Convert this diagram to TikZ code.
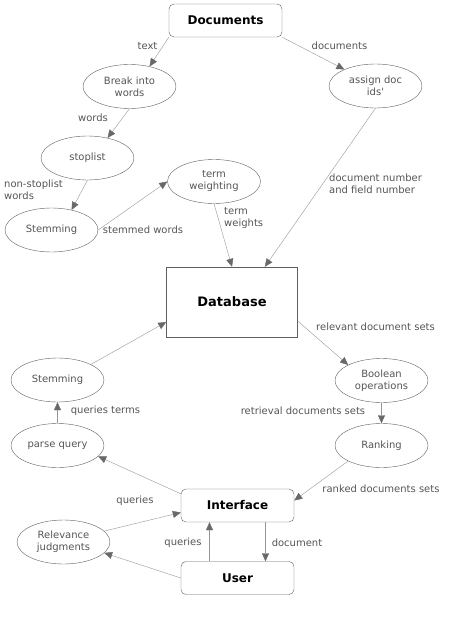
\documentclass[tikz,border=0pt]{standalone}
\usepackage{fontspec}
\setmainfont{DejaVu Sans}
\usetikzlibrary{arrows.meta, positioning, shapes.geometric, calc}
\definecolor{linegray}{RGB}{150,150,150}
\definecolor{tipgray}{RGB}{105,105,105}
\definecolor{textgray}{RGB}{85,85,85}
\definecolor{bordergray}{RGB}{95,95,95}

\begin{document}
\begin{tikzpicture}[x=1pt, y=-1pt,
    proc/.style={draw=bordergray, ellipse, minimum width=93pt, minimum height=44pt, inner sep=0pt, align=center, text=textgray, font=\fontsize{10}{12}\selectfont},
    store/.style={draw=bordergray, rounded corners=5pt, minimum width=113pt, minimum height=33pt, font=\fontsize{12}{14}\selectfont\bfseries},
    lbl/.style={text=textgray, font=\fontsize{10}{12}\selectfont, inner sep=1pt, align=left},
    flow/.style={draw=linegray, -{Triangle[length=8pt, width=7pt, color=tipgray]}}
]
        \useasboundingbox (0,0) rectangle (460,620);

        % Indexing side
        \node[store] (docs) at (225.5,20.5) {Documents};
        \node[proc] (brk) at (129.5,86.5) {Break into\\words};
        \node[proc] (assign) at (375.5,86) {assign doc\\ids\textquotesingle};
        \node[proc] (stop) at (87.5,158) {stoplist};
        \node[proc] (weight) at (214,181.5) {term\\weighting};
        \node[proc] (stemA) at (51.5,230) {Stemming};

        % Database in the middle
        \node[draw=bordergray, minimum width=131pt, minimum height=70pt, font=\fontsize{13}{15}\selectfont\bfseries] (db) at (232,302) {Database};

        % Query side
        \node[proc] (stemB) at (57.5,380) {Stemming};
        \node[proc] (parse) at (57.5,445.5) {parse query};
        \node[proc] (bool) at (381.5,380.5) {Boolean\\operations};
        \node[proc] (rank) at (381.5,445.5) {Ranking};
        \node[store] (iface) at (237.5,505.5) {Interface};
        \node[store] (user) at (237.5,578) {User};
        \node[proc] (judge) at (63.5,542) {Relevance\\judgments};

        % Connections for indexing
        \draw[flow] (docs.south west) -- (brk.45);
        \draw[flow] (docs.south east) -- (assign.152);
        \draw[flow] (brk.south) -- (stop.45);
        \draw[flow] (assign.south) -- ($(db.north)!0.5!(db.north east)$);
        \draw[flow] (stop.south) -- (stemA.45);
        \draw[flow] (stemA.east) -- (weight.west);
        \draw[flow] (weight.south) -- (db.north);

        % Connections for querying
        \draw[flow] (stemB.25) -- ([yshift=-20pt]db.west);
        \draw[flow] ([yshift=-19pt]db.east) -- (bool.155);
        \draw[flow] (bool.south) -- (rank.north);
        \draw[flow] (parse.north) -- (stemB.south);
        \draw[flow] ([yshift=-5pt]iface.north west) -- (parse.-15);
        \draw[flow] (rank.205) -- ([yshift=5pt]iface.east);
        \draw[flow] (judge.15) -- ([yshift=-7pt]iface.west);
        \draw[flow] ([xshift=-28pt]user.north) -- ([xshift=-28pt]iface.south);
        \draw[flow] ([xshift=28pt]iface.south) -- ([xshift=28pt]user.north);
        \draw[flow] (user.west) -- (judge.-15);

        % Edge labels
        \node[lbl] (ltext) at (147.5,46) {text};
        \node[lbl] (ldocs) at (339.5,46) {documents};
        \node[lbl] (lwords) at (93,118) {words};
        \node[lbl, anchor=west] (lnonstop) at (3,190) {non-stoplist\\words};
        \node[lbl] (lstemmed) at (143,230) {stemmed words};
        \node[lbl, anchor=west] (lweights) at (223,218) {term\\weights};
        \node[lbl, anchor=west] (lnumber) at (328,184) {document number\\and field number};
        \node[lbl] (lrelevant) at (375.5,327) {relevant document sets};
        \node[lbl] (lterms) at (105.5,411) {queries terms};
        \node[lbl] (lretrieval) at (303,411) {retrieval documents sets};
        \node[lbl] (lranked) at (381,489) {ranked documents sets};
        \node[lbl] (lqueriesA) at (135,501) {queries};
        \node[lbl] (lqueriesB) at (183,543) {queries};
        \node[lbl] (ldocument) at (297,543) {document};
\end{tikzpicture}
\end{document}
